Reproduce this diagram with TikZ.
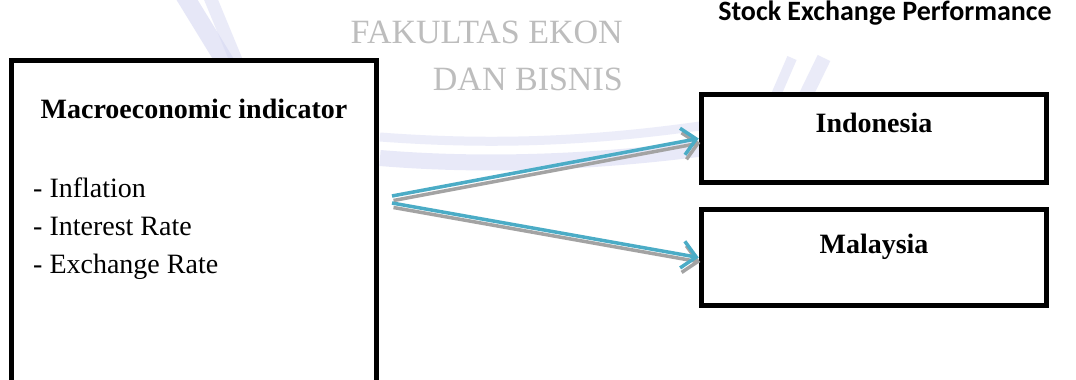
\documentclass[tikz,border=0pt]{standalone}
\usepackage{fontspec}
\setmainfont{Liberation Serif}
\newfontfamily\calfont{Carlito}
\usetikzlibrary{arrows.meta}
\definecolor{arrowc}{HTML}{4BACC6}
\definecolor{shadowc}{HTML}{A3A3A3}
\definecolor{wmblue}{HTML}{D6D8F3}
\definecolor{wmgray}{HTML}{BDBDBD}
\begin{document}
\begin{tikzpicture}[x=1pt,y=-1pt,
  box/.style={draw=black, line width=5.5pt, fill=white, inner sep=0pt},
  lbl/.style={font=\fontsize{28}{34}\selectfont\bfseries, inner sep=0pt, anchor=base},
  item/.style={font=\fontsize{28}{34}\selectfont, inner sep=0pt, anchor=base west},
  head/.style={font=\calfont\fontsize{28}{33}\selectfont\bfseries, inner sep=0pt, anchor=base},
  wmtext/.style={text=wmgray, font=\fontsize{34}{40}\selectfont, inner sep=0pt, anchor=base east},
  wmstroke/.style={draw=wmblue, line cap=butt},
  tipstyle/.style={-{Straight Barb[length=14pt,width=27pt]}},
  conn/.style={draw=arrowc, line width=3.5pt, tipstyle},
  connshadow/.style={draw=shadowc, line width=3.5pt, tipstyle, transform canvas={xshift=1.5pt,yshift=-4.5pt}}
]
\useasboundingbox (0,0) rectangle (1076,380);
\clip (0,0) rectangle (1076,380);
\fill[white] (0,0) rectangle (1076,380);

% watermark
\draw[wmstroke, line width=18pt, opacity=0.6] (181,-10) -- (227,65);
\draw[wmstroke, line width=13pt, opacity=0.5] (207,-10) -- (238,65);
\draw[wmstroke, line width=10pt, opacity=0.5] (776,95) -- (792,58);
\draw[wmstroke, line width=14pt, opacity=0.5] (806,95) -- (824,58);
\draw[wmstroke, line width=9pt, opacity=0.45] (380,137) .. controls (500,146) and (600,140) .. (700,126);
\draw[wmstroke, line width=16pt, opacity=0.55] (380,158) .. controls (500,168) and (620,160) .. (720,146);
\node[wmtext] (wm1) at (623,43) {FAKULTAS EKON};
\node[wmtext] (wm2) at (623,90) {DAN BISNIS};

% boxes
\node[box, minimum width=365pt, minimum height=400pt] (macro) at (194,260.5) {};
\node[box, minimum width=345pt, minimum height=88pt] (indo) at (874,138.5) {};
\node[box, minimum width=345pt, minimum height=96pt] (mal) at (874,257.5) {};

% texts
\node[lbl] (title) at (194,118) {Macroeconomic indicator};
\node[item] (i1) at (33,197) {- Inflation};
\node[item] (i2) at (33,235) {- Interest Rate};
\node[item] (i3) at (33,273) {- Exchange Rate};
\node[lbl] (tindo) at (874,132) {Indonesia};
\node[lbl] (tmal) at (874,253) {Malaysia};
\node[head] (perf) at (885,20) {Stock Exchange Performance};

% connectors
\coordinate (s1) at (392,196);
\coordinate (s2) at (392,203);
\draw[connshadow] (s1) -- (indo.west);
\draw[connshadow] (s2) -- (mal.west);
\draw[conn] (s1) -- (indo.west);
\draw[conn] (s2) -- (mal.west);
\end{tikzpicture}
\end{document}
